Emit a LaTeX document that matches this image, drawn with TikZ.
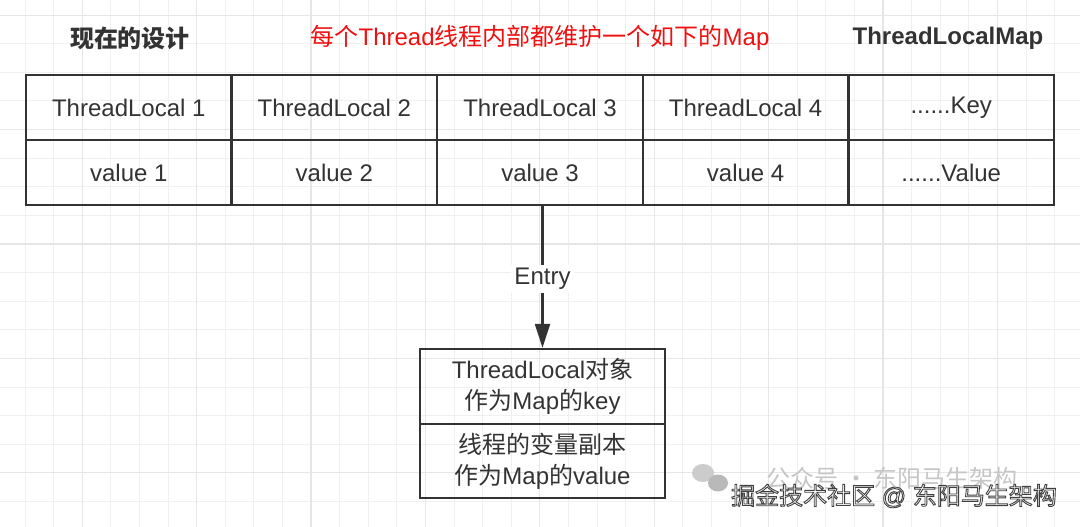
\documentclass[tikz,border=0pt]{standalone}
\usepackage{fontspec}
\setmainfont{Liberation Sans}
\newfontfamily\cjk{Noto Sans CJK SC}
\usetikzlibrary{arrows.meta}
\newcommand\zh[1]{{\cjk #1}}
\definecolor{ink}{HTML}{333333}
\definecolor{gridminor}{HTML}{F0F0F0}
\definecolor{gridmajor}{HTML}{E6E6E6}
\definecolor{redtxt}{HTML}{F01010}
\begin{document}
\begin{tikzpicture}[x=1pt,y=-1pt,
  every node/.style={font=\fontsize{24}{31}\selectfont, text=ink, inner sep=0pt},
  cell/.style={draw=ink, line width=2.4pt, minimum width=205.6pt, minimum height=65pt, anchor=center},
  objbox/.style={draw=ink, line width=2.4pt, minimum width=245pt, anchor=center, align=center},
  arrowline/.style={draw=ink, line width=2.2pt, -{Triangle[length=24pt,width=15pt]}},
  header/.style={font=\fontsize{24}{30}\selectfont\bfseries}]
\useasboundingbox (0,0) rectangle (1080,527);
\fill[white] (0,0) rectangle (1080,527);
% grid
\foreach \i in {0,...,37} {
  \draw[gridminor, line width=1pt] ({-3.6+28.6*\i},0) -- ({-3.6+28.6*\i},527);
}
\foreach \i in {0,...,18} {
  \draw[gridminor, line width=1pt] (0,{15.2+28.6*\i}) -- (1080,{15.2+28.6*\i});
}
\foreach \i in {0,...,9} {
  \draw[gridmajor, line width=1.3pt] ({-32.2+114.4*\i},0) -- ({-32.2+114.4*\i},527);
}
\foreach \i in {0,...,4} {
  \draw[gridmajor, line width=1.3pt] (0,{15.2+114.4*\i}) -- (1080,{15.2+114.4*\i});
}
% headers
\node[header] (h1) at (130,38) {\zh{现在的设计}};
\node[text=redtxt] (h2) at (540,38) {\textcolor{redtxt}{\zh{每个}Thread\zh{线程内部都维护一个如下的}Map}};
\node[header] (h3) at (948,38) {ThreadLocalMap};
% table
\node[cell] (k1) at (128.8,107.5) {ThreadLocal 1};
\node[cell] (k2) at (334.4,107.5) {ThreadLocal 2};
\node[cell] (k3) at (540.0,107.5) {ThreadLocal 3};
\node[cell] (k4) at (745.6,107.5) {ThreadLocal 4};
\node[cell] (k5) at (951.2,107.5) {......Key};
\node[cell] (v1) at (128.8,172.5) {value 1};
\node[cell] (v2) at (334.4,172.5) {value 2};
\node[cell] (v3) at (540.0,172.5) {value 3};
\node[cell] (v4) at (745.6,172.5) {value 4};
\node[cell] (v5) at (951.2,172.5) {......Value};
% object box
\node[objbox, minimum height=75pt] (objkey) at (542.5,386.5) {ThreadLocal\zh{对象}\\\zh{作为}Map\zh{的}key};
\node[objbox, minimum height=74pt] (objval) at (542.5,461) {\zh{线程的变量副本}\\\zh{作为}Map\zh{的}value};
% connector
\draw[arrowline] (v3.south -| objkey.north) -- node[fill=white, inner sep=3pt, yshift=-2pt] (entry) {Entry} (objkey.north);
% watermark
\node[text=gray!45] (wm1) at (892,478) {\zh{公众号 · 东阳马生架构}};
\fill[gray!40] (703,473) ellipse (11pt and 9pt);
\fill[gray!55] (718,483) ellipse (10pt and 8.5pt);
\node (wm2) at (894,496) {\textcolor{white}{\special{pdf:literal direct 0.25 G 2 Tr 0.9 w}\zh{掘金技术社区} @ \zh{东阳马生架构}\special{pdf:literal direct 0 Tr}}};
\end{tikzpicture}
\end{document}
